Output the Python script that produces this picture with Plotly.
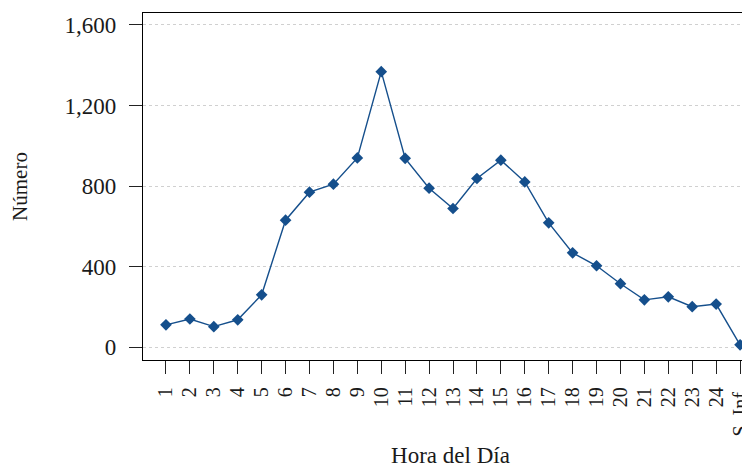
import plotly.graph_objects as go

horas = ["1", "2", "3", "4", "5", "6", "7", "8", "9", "10", "11", "12", "13",
         "14", "15", "16", "17", "18", "19", "20", "21", "22", "23", "24", "S. Inf."]
numero = [112, 141, 103, 137, 261, 631, 770, 810, 940, 1368, 938, 790, 689,
          838, 929, 821, 618, 469, 405, 316, 236, 251, 202, 215, 13]
y_ticks = [0, 400, 800, 1200, 1600]
y_tick_text = ["0", "400", "800", "1,200", "1,600"]

COLOR = "#154f8c"
FONT = "Liberation Serif"

fig = go.Figure()
fig.add_trace(go.Scatter(
    x=horas, y=numero, mode="lines+markers",
    line=dict(color=COLOR, width=1.4),
    marker=dict(symbol="diamond", size=9, color=COLOR),
    showlegend=False,
))

fig.update_layout(
    width=750, height=467,
    margin=dict(l=135, r=0, t=5, b=115),
    plot_bgcolor="white", paper_bgcolor="white",
    font=dict(family=FONT, size=23, color="#1a1a1a"),
    xaxis=dict(
        type="category", categoryorder="array", categoryarray=horas,
        tickmode="array", tickvals=horas, ticktext=horas,
        range=[-0.96, 24.75], automargin=False,
        showline=True, linecolor="black", linewidth=1.3, mirror=True,
        ticks="outside", ticklen=13, tickwidth=1.3, tickcolor="#222",
        tickangle=-90, tickfont=dict(size=20), ticklabelstandoff=5,
        showgrid=False, zeroline=False,
        title=dict(text="Hora del Día", font=dict(size=23), standoff=11),
    ),
    yaxis=dict(
        range=[-62.5, 1659], automargin=False,
        tickmode="array", tickvals=y_ticks, ticktext=y_tick_text,
        showline=True, linecolor="black", linewidth=1.3,
        ticks="outside", ticklen=13, tickwidth=1.3, tickcolor="#222",
        ticklabelstandoff=8,
        showgrid=True, gridcolor="#d0d0d0", griddash="dot", gridwidth=1,
        zeroline=False,
        title=dict(text="Número", font=dict(size=21), standoff=34),
    ),
)

fig.write_html("out.html")
